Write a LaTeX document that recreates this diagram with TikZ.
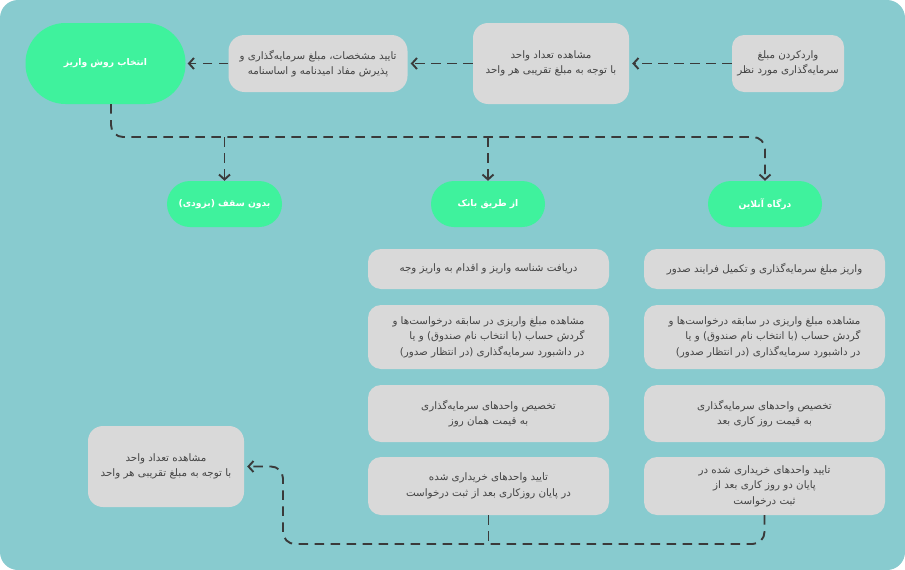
\documentclass[tikz,border=0pt]{standalone}
\usepackage{fontspec}
\newfontfamily\arabicfont[Script=Arabic]{DejaVu Sans}
\TeXXeTstate=1
\usetikzlibrary{arrows.meta}
\definecolor{bgteal}{HTML}{88CBCF}
\definecolor{mint}{HTML}{3FF29D}
\definecolor{boxgray}{HTML}{D9D9D9}
\definecolor{txtgray}{HTML}{444444}
\definecolor{linegray}{HTML}{3A3A3A}
\newcommand{\fa}[1]{\beginR #1\endR}
\tikzset{
  graybox/.style={fill=boxgray, rounded corners=13pt, text=txtgray, inner sep=0pt,
    font=\arabicfont\fontsize{10.3}{15.5}\selectfont, align=center},
  pill/.style={fill=mint, text=white, inner sep=0pt,
    font=\arabicfont\bfseries\fontsize{9.2}{12}\selectfont, align=center},
  conn/.style={draw=linegray, line width=1.9pt, dash pattern=on 9.5pt off 6.5pt},
  arr/.style={-{Straight Barb[length=5pt,width=11pt,line width=1.9pt]}}
}
\begin{document}
\begin{tikzpicture}[x=1pt,y=-1pt]
\useasboundingbox (0,0) rectangle (905,570);
\fill[white] (0,0) rectangle (905,570);
\fill[bgteal, rounded corners=18pt] (0,0) rectangle (905,570);

% top row
\node[pill, rounded corners=40pt, minimum width=160pt, minimum height=81pt] (pill) at (105.5,63.5) {\fa{انتخاب روش واریز}};
\node[graybox, rounded corners=16pt, minimum width=179pt, minimum height=57pt] (t1) at (318,63.5)
  {\fa{تایید مشخصات، مبلغ سرمایه‌گذاری و}\\\fa{پذیرش مفاد امیدنامه و اساسنامه}};
\node[graybox, rounded corners=15pt, minimum width=156pt, minimum height=81pt] (m1) at (551,63.5)
  {\fa{مشاهده تعداد واحد}\\\fa{با توجه به مبلغ تقریبی هر واحد}};
\node[graybox, rounded corners=12pt, minimum width=112pt, minimum height=57pt] (in1) at (788,63.5)
  {\fa{واردکردن مبلغ}\\\fa{سرمایه‌گذاری مورد نظر}};

% methods
\node[pill, rounded corners=23pt, minimum width=115pt, minimum height=46pt] (bedoon) at (224.5,204) {\fa{بدون سقف (بزودی)}};
\node[pill, rounded corners=23pt, minimum width=114pt, minimum height=46pt] (bank) at (488,204) {\fa{از طریق بانک}};
\node[pill, rounded corners=23pt, minimum width=114pt, minimum height=46pt] (online) at (765,204) {\fa{درگاه آنلاین}};

% bank column
\node[graybox, minimum width=241pt, minimum height=40pt] (L1) at (488.5,269)
  {\fa{دریافت شناسه واریز و اقدام به واریز وجه}};
\node[graybox, align=right, minimum width=241pt, minimum height=64pt] (L2) at (488.5,337)
  {\fa{مشاهده مبلغ واریزی در سابقه درخواست‌ها و}\\\fa{گردش حساب (با انتخاب نام صندوق) و یا}\\\fa{در داشبورد سرمایه‌گذاری (در انتظار صدور)}};
\node[graybox, minimum width=241pt, minimum height=57pt] (L3) at (488.5,413.5)
  {\fa{تخصیص واحدهای سرمایه‌گذاری}\\\fa{به قیمت همان روز}};
\node[graybox, minimum width=241pt, minimum height=58pt] (L4) at (488.5,486)
  {\fa{تایید واحدهای خریداری شده}\\\fa{در پایان روزکاری بعد از ثبت درخواست}};

% online column
\node[graybox, minimum width=241pt, minimum height=40pt] (R1) at (764.5,269)
  {\fa{واریز مبلغ سرمایه‌گذاری و تکمیل فرایند صدور}};
\node[graybox, align=right, minimum width=241pt, minimum height=64pt] (R2) at (764.5,337)
  {\fa{مشاهده مبلغ واریزی در سابقه درخواست‌ها و}\\\fa{گردش حساب (با انتخاب نام صندوق) و یا}\\\fa{در داشبورد سرمایه‌گذاری (در انتظار صدور)}};
\node[graybox, minimum width=241pt, minimum height=57pt] (R3) at (764.5,413.5)
  {\fa{تخصیص واحدهای سرمایه‌گذاری}\\\fa{به قیمت روز کاری بعد}};
\node[graybox, minimum width=241pt, minimum height=58pt] (R4) at (764.5,486)
  {\fa{تایید واحدهای خریداری شده در}\\\fa{پایان دو روز کاری بعد از}\\\fa{ثبت درخواست}};

% result
\node[graybox, rounded corners=15pt, minimum width=156pt, minimum height=81pt] (BL) at (166,466.5)
  {\fa{مشاهده تعداد واحد}\\\fa{با توجه به مبلغ تقریبی هر واحد}};

% helper coordinates
\coordinate (hbar) at (0,137);
\coordinate (hbot) at (0,544);
\coordinate (vx) at (283,0);

% connectors
\draw[conn, arr, shorten >=3pt] (in1.west) -- (m1.east);
\draw[conn, arr, shorten >=3pt] (m1.west) -- (t1.east);
\draw[conn, arr, shorten >=2pt] (t1.west) -- (pill.east);
\draw[conn, arr, rounded corners=12pt] ([xshift=5.5pt]pill.south) |- (hbar -| online.north) -- (online.north);
\draw[conn, arr] (hbar -| bedoon.north) -- (bedoon.north);
\draw[conn, arr] (hbar -| bank.north) -- (bank.north);
\draw[conn, arr, rounded corners=12pt, shorten >=3pt] (R4.south) |- (vx |- hbot) |- (BL.east);
\draw[conn] (L4.south) -- (L4.south |- hbot);
\end{tikzpicture}
\end{document}
